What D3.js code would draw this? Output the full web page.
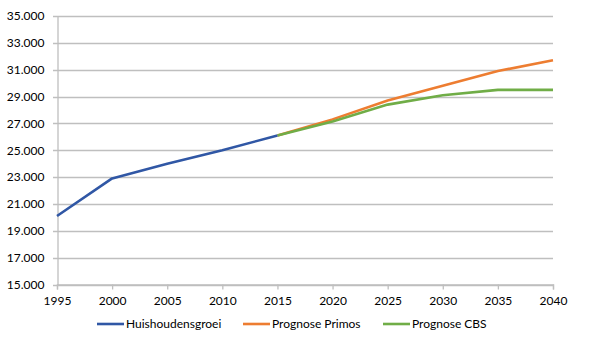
<!DOCTYPE html>
<html><head><meta charset="utf-8">
<script src="https://cdn.jsdelivr.net/npm/d3@7"></script>
<style>body{margin:0;background:#fff}svg{display:block}text{font-family:Lato,"Open Sans",sans-serif;fill:#000}</style>
</head><body><svg id="c" width="605" height="349"></svg>
<script>
const years = [1995, 2000, 2005, 2010, 2015, 2020, 2025, 2030, 2035, 2040];
const huishoudensgroei = [20100, 22900, 24000, 25000, 26100, null, null, null, null, null];
const prognosePrimos = [null, null, null, null, 26100, 27300, 28700, 29800, 30900, 31700];
const prognoseCBS = [null, null, null, null, 26100, 27150, 28400, 29100, 29500, 29500];
const yTicks = [15000, 17000, 19000, 21000, 23000, 25000, 27000, 29000, 31000, 33000, 35000];
const seriesNames = ["Huishoudensgroei", "Prognose Primos", "Prognose CBS"];
const colors = ["#3057A5", "#ED7D31", "#70AD47"];

const svg = d3.select("#c");
const x = d3.scaleLinear().domain([1995, 2040]).range([57, 553]);
const y = d3.scaleLinear().domain([15000, 35000]).range([284.5, 16]);
const fmt = v => d3.format(",")(v).replace(/,/g, ".").replace(/^(\d+)$/, "$1");

// gridlines
svg.append("g").selectAll("line").data(yTicks).join("line")
  .attr("x1", 53).attr("x2", 553)
  .attr("y1", d => Math.round(y(d)) + 0.5).attr("y2", d => Math.round(y(d)) + 0.5)
  .attr("stroke", "#bfbfbf").attr("stroke-width", 1.3);

// y axis
const yAxis = svg.append("g").attr("transform", "translate(57.5,0)")
  .call(d3.axisLeft(y).tickValues(yTicks).tickSize(0).tickPadding(13)
    .tickFormat(d => d3.format(",.0f")(d).replace(",", ".")));
yAxis.select(".domain").attr("stroke", "#bfbfbf").attr("stroke-width", 1.3);
yAxis.selectAll("text").attr("font-size", 12).style("font-family", "Lato");

// x axis
const xAxis = svg.append("g").attr("transform", "translate(0,284.5)")
  .call(d3.axisBottom(x).tickValues(years).tickSize(5).tickPadding(7).tickFormat(d3.format("d")));
xAxis.select(".domain").attr("stroke", "#bfbfbf").attr("stroke-width", 1.3);
xAxis.selectAll(".tick line").attr("stroke", "#bfbfbf").attr("stroke-width", 1.3);
xAxis.selectAll("text").attr("font-size", 12).style("font-family", "Lato");

// lines
const allSeries = [huishoudensgroei, prognosePrimos, prognoseCBS];
const line = d3.line().defined(d => d.v != null).x(d => x(d.year)).y(d => y(d.v));
// draw forecast series first, blue last
[1, 2, 0].forEach(i => {
  const data = years.map((yr, j) => ({year: yr, v: allSeries[i][j]}));
  svg.append("path").datum(data).attr("d", line)
    .attr("fill", "none").attr("stroke", colors[i]).attr("stroke-width", 2.6)
    .attr("stroke-linejoin", "round");
});

// legend
const legendX = [97, 243, 383];
const lg = svg.append("g");
seriesNames.forEach((n, i) => {
  lg.append("line").attr("x1", legendX[i]).attr("x2", legendX[i] + 27)
    .attr("y1", 324).attr("y2", 324).attr("stroke", colors[i]).attr("stroke-width", 2.6);
  lg.append("text").attr("x", legendX[i] + 29).attr("y", 324).attr("dy", "0.35em")
    .attr("font-size", 12).text(n);
});
</script></body></html>
